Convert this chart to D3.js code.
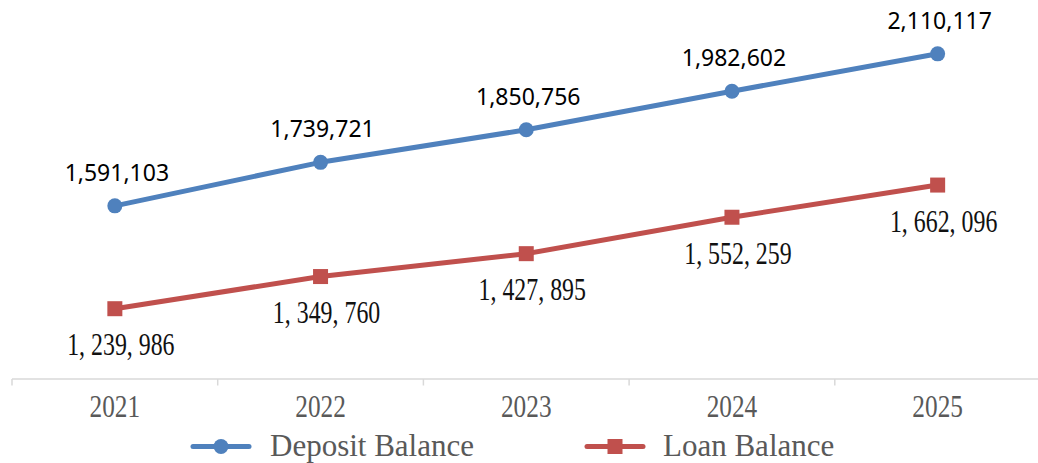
<!DOCTYPE html>
<html><head><meta charset="utf-8">
<script src="https://cdn.jsdelivr.net/npm/d3@7"></script>
<style>body{margin:0;background:#fff}svg{display:block}</style>
</head><body>
<svg id="c" width="1038" height="463"></svg>
<script>
const years = ["2021","2022","2023","2024","2025"];
const deposit = [1591103, 1739721, 1850756, 1982602, 2110117];
const loan = [1239986, 1349760, 1427895, 1552259, 1662096];
const seriesNames = ["Deposit Balance", "Loan Balance"];

const svg = d3.select("#c");
const x = d3.scaleBand().domain(years).range([12, 1040.5]).padding(0);
const y = d3.scaleLinear().domain([1000000, 2200000]).range([379, 27.5]);
const cx = d => x(d) + x.bandwidth()/2;

const blue = "#4F81BD", red = "#C0504D";

// axis
svg.append("line").attr("x1", 12).attr("x2", 1040.5).attr("y1", 379).attr("y2", 379)
  .attr("stroke", "#d9d9d9").attr("stroke-width", 1.5);
const bounds = years.map(d => x(d)).concat([x(years[years.length-1]) + x.bandwidth()]);
svg.selectAll(".tick").data(bounds).join("line")
  .attr("x1", d => d).attr("x2", d => d).attr("y1", 379).attr("y2", 385.5)
  .attr("stroke", "#d9d9d9").attr("stroke-width", 1.5);

function squeeze(sel, factor) {
  sel.each(function() {
    const w = this.getComputedTextLength();
    d3.select(this).attr("textLength", w * factor).attr("lengthAdjust", "spacingAndGlyphs");
  });
}

svg.selectAll(".xl").data(years).join("text")
  .attr("x", d => cx(d)).attr("y", 416.5).attr("text-anchor", "middle")
  .attr("font-family", "Liberation Serif").attr("font-size", 32).attr("fill", "#595959")
  .text(d => d).call(squeeze, 0.79);

const line = d3.line().x((d, i) => cx(years[i])).y(d => y(d));

svg.append("path").datum(deposit).attr("d", line).attr("fill", "none")
  .attr("stroke", blue).attr("stroke-width", 5).attr("stroke-linejoin", "round").attr("stroke-linecap", "round");
svg.append("path").datum(loan).attr("d", line).attr("fill", "none")
  .attr("stroke", red).attr("stroke-width", 5).attr("stroke-linejoin", "round").attr("stroke-linecap", "round");

svg.selectAll(".dp").data(deposit).join("circle")
  .attr("cx", (d, i) => cx(years[i])).attr("cy", d => y(d)).attr("r", 7.5).attr("fill", blue);
svg.selectAll(".lp").data(loan).join("rect")
  .attr("x", (d, i) => cx(years[i]) - 7.5).attr("y", d => y(d) - 7.5)
  .attr("width", 15).attr("height", 15).attr("fill", red);

const fmtD = d3.format(",");
svg.selectAll(".dl").data(deposit).join("text")
  .attr("x", (d, i) => cx(years[i]) + 2).attr("y", d => y(d) - 25).attr("text-anchor", "middle")
  .attr("font-family", "Noto Sans").attr("font-size", 23).attr("fill", "#000")
  .text(d => fmtD(d));

svg.selectAll(".ll").data(loan).join("text")
  .attr("x", (d, i) => cx(years[i]) + 6).attr("y", d => y(d) + 46.5).attr("text-anchor", "middle")
  .attr("font-family", "Liberation Serif").attr("font-size", 31).attr("fill", "#111")
  .text(d => fmtD(d).replace(/,/g, ", ")).call(squeeze, 0.77);

// legend
const legend = [
  {name: seriesNames[0], color: blue, shape: "circle", x0: 193, tx: 270},
  {name: seriesNames[1], color: red, shape: "rect", x0: 587, tx: 663}
];
const ly = 446.5;
legend.forEach(l => {
  svg.append("line").attr("x1", l.x0).attr("x2", l.x0 + 56).attr("y1", ly).attr("y2", ly)
    .attr("stroke", l.color).attr("stroke-width", 5).attr("stroke-linecap", "round");
  if (l.shape === "circle") {
    svg.append("circle").attr("cx", l.x0 + 28).attr("cy", ly).attr("r", 7.5).attr("fill", l.color);
  } else {
    svg.append("rect").attr("x", l.x0 + 20.5).attr("y", ly - 7.5).attr("width", 15).attr("height", 15).attr("fill", l.color);
  }
  svg.append("text").attr("x", l.tx).attr("y", 456).attr("font-family", "Liberation Serif")
    .attr("font-size", 31).attr("fill", "#595959").text(l.name);
});
</script>
</body></html>
